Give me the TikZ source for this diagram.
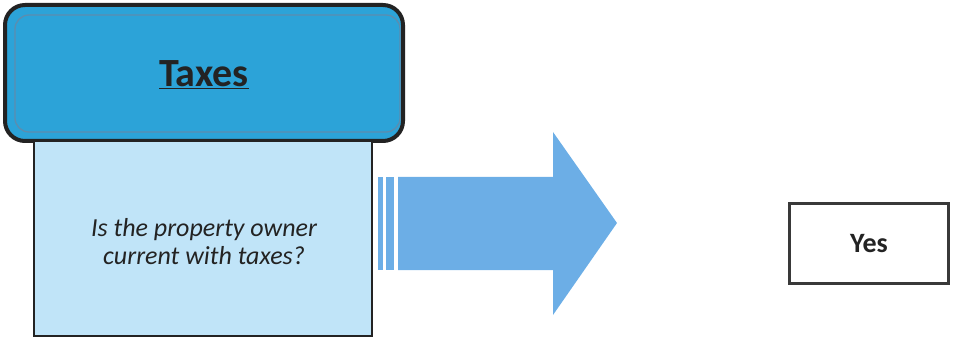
\documentclass[tikz,border=0pt]{standalone}
\usepackage{fontspec}
\setmainfont{Carlito}
\usetikzlibrary{positioning}
\definecolor{TaxBlue}{RGB}{44,163,216}
\definecolor{TaxRim}{RGB}{22,92,140}
\definecolor{AskBlue}{RGB}{192,228,248}
\definecolor{ArrowBlue}{RGB}{108,174,230}
\definecolor{InkGray}{RGB}{35,35,35}

\begin{document}
\begin{tikzpicture}[x=1pt,y=-1pt,
    header/.style={draw=InkGray,line width=4pt,fill=TaxBlue,rounded corners=20pt,
      minimum width=398pt,minimum height=136pt,inner sep=0pt},
    askbox/.style={draw=InkGray,line width=2pt,fill=AskBlue,
      minimum width=338pt,minimum height=195pt,inner sep=0pt},
    answer/.style={draw=InkGray!90,line width=3pt,fill=white,
      minimum width=159pt,minimum height=80pt,inner sep=0pt}]
  \useasboundingbox (0,0) rectangle (953,339);
  % header card
  \node[header] (taxes) at (204,73) {};
  \node[draw=TaxRim!70,line width=1.3pt,rounded corners=14pt,minimum width=385pt,
    minimum height=117pt,inner sep=0pt] (rim) at (207.5,73.5) {};
  \node[font=\bfseries\fontsize{40}{44}\selectfont,text=InkGray] (title) at (204,75) {\underline{Taxes}};
  % question card
  \node[askbox] (ask) at (203,238.5) {};
  \node[font=\itshape\fontsize{26}{28}\selectfont,align=center,text=InkGray] (question) at (204,242)
    {Is the property owner\\current with taxes?};
  % block arrow
  \fill[ArrowBlue] (378,177) rectangle (383,270);
  \fill[ArrowBlue] (386,177) rectangle (394,270);
  \fill[ArrowBlue] (398,177) -- (553,177) -- (553,132) -- (617,223)
    -- (553,315) -- (553,270) -- (398,270) -- cycle;
  % answer
  \node[answer,font=\bfseries\fontsize{28}{30}\selectfont,text=InkGray] (yes) at (869,243.5) {Yes};
\end{tikzpicture}
\end{document}
